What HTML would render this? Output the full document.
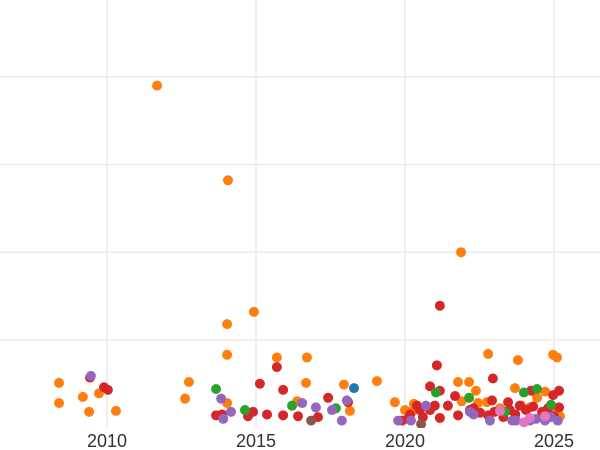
<!DOCTYPE html>
<html><head><meta charset="utf-8"><style>
html,body{margin:0;padding:0;background:#fff;}
svg{display:block;font-family:"Liberation Sans","DejaVu Sans",sans-serif;}
</style></head><body>
<svg id="chart" width="600" height="450">
<defs><clipPath id="clip"><rect x="0" y="0" width="600" height="428"/></clipPath></defs>
<g id="grid"></g>
<g id="points" clip-path="url(#clip)"></g>
<g id="xaxis"></g>
</svg>
<script>
const xTicks = [2010, 2015, 2020, 2025];
const yGrid = [1, 2, 3, 4];
const palette = {o:'#ff7f0e', r:'#d62728', g:'#2ca02c', p:'#9467bd', b:'#1f77b4', n:'#8c564b', k:'#e377c2'};
const orangeYears = [2011.68,2014.06,2014.03,2014.93,2014.03,2008.39,2008.39,2009.19,2009.40,2009.73,2010.30,2012.75,2012.62,2014.03,2015.70,2016.71,2016.68,2016.38,2017.95,2018.15,2019.06,2019.66,2021.88,2022.79,2023.79,2024.97,2025.10,2021.78,2022.15,2022.38,2023.69,2024.43,2024.70,2020.30,2022.45,2022.75,2024.19,2025.20,2020.23,2023.19,2020.0,2021.9,2023.9,2024.9];
const orangeValues = [3.90,2.82,1.18,1.32,0.83,0.51,0.28,0.35,0.18,0.39,0.19,0.52,0.33,0.28,0.80,0.80,0.51,0.30,0.49,0.19,0.53,0.29,2.00,0.84,0.77,0.83,0.80,0.52,0.52,0.42,0.45,0.34,0.41,0.27,0.28,0.29,0.23,0.13,0.18,0.22,0.20,0.30,0.25,0.18];
const redYears = [2021.17,2021.07,2015.70,2009.43,2009.90,2010.03,2015.13,2015.91,2013.66,2013.86,2014.73,2014.90,2015.37,2015.91,2016.41,2017.08,2017.42,2018.09,2020.84,2021.17,2022.95,2024.23,2025.17,2021.68,2020.50,2020.84,2021.44,2020.17,2021.17,2021.78,2022.52,2022.92,2023.46,2023.52,2023.85,2024.06,2024.80,2025.17,2024.97,2024.70,2022.79,2022.18,2020.4,2020.6,2021.0,2022.3,2023.0,2023.3,2023.7,2024.3,2024.6,2025.0,2020.1,2019.9];
const redValues = [1.39,0.71,0.69,0.57,0.46,0.43,0.50,0.43,0.14,0.15,0.13,0.18,0.15,0.14,0.13,0.12,0.34,0.29,0.47,0.42,0.56,0.42,0.42,0.36,0.20,0.20,0.25,0.15,0.11,0.14,0.17,0.31,0.29,0.20,0.25,0.20,0.22,0.23,0.37,0.14,0.14,0.20,0.25,0.12,0.25,0.22,0.18,0.12,0.15,0.24,0.18,0.13,0.10,0.08];
const greenYears = [2013.66,2014.63,2016.21,2017.68,2021.04,2022.15,2023.99,2024.43,2024.90,2023.36];
const greenValues = [0.44,0.20,0.25,0.22,0.40,0.34,0.40,0.44,0.26,0.18];
const purpleYears = [2009.46,2013.83,2013.90,2014.16,2017.01,2017.55,2018.05,2017.88,2019.77,2020.20,2020.70,2022.18,2022.85,2023.72,2024.19,2024.70,2025.13,2016.55,2022.3,2023.6,2024.4,2024.9];
const purpleValues = [0.59,0.33,0.10,0.18,0.23,0.20,0.31,0.08,0.08,0.08,0.25,0.18,0.08,0.08,0.08,0.08,0.08,0.28,0.15,0.08,0.10,0.12];
const blueYears = [2018.29];
const blueValues = [0.45];
const brownYears = [2016.85,2020.54];
const brownValues = [0.08,0.04];
const pinkYears = [2023.19,2024.19,2024.70,2023.99];
const pinkValues = [0.19,0.11,0.13,0.06];

const NS='http://www.w3.org/2000/svg';
const xs = y => 107 + (y-2010)*29.8;
const ys = v => 427.6 - v*87.7;
const grid=document.getElementById('grid'), pts=document.getElementById('points'), xa=document.getElementById('xaxis');
yGrid.forEach(v=>{
  const l=document.createElementNS(NS,'line');
  l.setAttribute('x1',0);l.setAttribute('x2',600);l.setAttribute('y1',ys(v));l.setAttribute('y2',ys(v));
  l.setAttribute('stroke','#ebebeb');l.setAttribute('stroke-width',1.5);
  
  
  grid.appendChild(l);
});
xTicks.forEach(t=>{
  const l=document.createElementNS(NS,'line');
  l.setAttribute('x1',xs(t));l.setAttribute('x2',xs(t));l.setAttribute('y1',0);l.setAttribute('y2',427);
  l.setAttribute('stroke','#ebebeb');l.setAttribute('stroke-width',1.5);
  
  
  grid.appendChild(l);
  const tx=document.createElementNS(NS,'text');
  tx.setAttribute('x',xs(t));tx.setAttribute('y',447);tx.setAttribute('text-anchor','middle');
  tx.setAttribute('font-size','18');tx.setAttribute('fill','#333');
  tx.textContent=t;
  
  
  xa.appendChild(tx);
});
const series=[['orange',orangeYears,orangeValues,palette.o],['red',redYears,redValues,palette.r],['green',greenYears,greenValues,palette.g],['purple',purpleYears,purpleValues,palette.p],['blue',blueYears,blueValues,palette.b],['brown',brownYears,brownValues,palette.n],['pink',pinkYears,pinkValues,palette.k]];
series.forEach(([name,xsA,vs,col])=>{
  xsA.forEach((yr,i)=>{
    const c=document.createElementNS(NS,'circle');
    c.setAttribute('cx',xs(yr));c.setAttribute('cy',ys(vs[i]));c.setAttribute('r',5);
    c.setAttribute('fill',col);
    
    
    pts.appendChild(c);
  });
});
</script>
</body></html>
